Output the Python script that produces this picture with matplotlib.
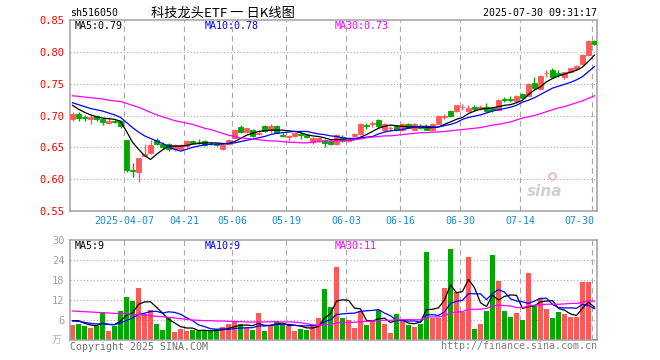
import numpy as np
import matplotlib
matplotlib.use("Agg")
import matplotlib.pyplot as plt

plt.rcParams['font.family'] = ['DejaVu Sans Mono', 'Noto Sans CJK SC']

dates = ["03-24", "03-25", "03-26", "03-27", "03-28", "03-31", "04-01", "04-02", "04-03", "04-07",
         "04-08", "04-09", "04-10", "04-11", "04-14", "04-15", "04-16", "04-17", "04-18", "04-21",
         "04-22", "04-23", "04-24", "04-25", "04-28", "04-29", "04-30", "05-06", "05-07", "05-08",
         "05-09", "05-12", "05-13", "05-14", "05-15", "05-16", "05-19", "05-20", "05-21", "05-22",
         "05-23", "05-26", "05-27", "05-28", "05-29", "05-30", "06-03", "06-04", "06-05", "06-06",
         "06-09", "06-10", "06-11", "06-12", "06-13", "06-16", "06-17", "06-18", "06-19", "06-20",
         "06-23", "06-24", "06-25", "06-26", "06-27", "06-30", "07-01", "07-02", "07-03", "07-04",
         "07-07", "07-08", "07-09", "07-10", "07-11", "07-14", "07-15", "07-16", "07-17", "07-18",
         "07-21", "07-22", "07-23", "07-24", "07-25", "07-28", "07-29", "07-30"]

open_ = [0.695, 0.703, 0.697, 0.695, 0.699, 0.694, 0.689, 0.692, 0.691, 0.661,
         0.615, 0.611, 0.637, 0.641, 0.661, 0.656, 0.656, 0.647, 0.648, 0.652,
         0.660, 0.659, 0.660, 0.656, 0.656, 0.648, 0.655, 0.665, 0.682, 0.674,
         0.677, 0.671, 0.684, 0.678, 0.684, 0.670, 0.667, 0.668, 0.671, 0.670,
         0.658, 0.660, 0.662, 0.660, 0.655, 0.667, 0.660, 0.668, 0.671, 0.685,
         0.687, 0.693, 0.677, 0.680, 0.683, 0.677, 0.686, 0.678, 0.684, 0.683,
         0.677, 0.687, 0.698, 0.707, 0.707, 0.713, 0.707, 0.714, 0.710, 0.714,
         0.712, 0.709, 0.726, 0.726, 0.722, 0.733, 0.731, 0.751, 0.741, 0.766,
         0.772, 0.767, 0.760, 0.768, 0.773, 0.781, 0.795, 0.817]
high = [0.705, 0.706, 0.701, 0.703, 0.701, 0.696, 0.697, 0.695, 0.693, 0.661,
        0.626, 0.634, 0.656, 0.662, 0.664, 0.658, 0.657, 0.656, 0.656, 0.662,
        0.662, 0.663, 0.661, 0.658, 0.657, 0.656, 0.663, 0.679, 0.685, 0.681,
        0.679, 0.678, 0.685, 0.686, 0.685, 0.672, 0.669, 0.673, 0.674, 0.671,
        0.666, 0.665, 0.663, 0.661, 0.671, 0.669, 0.665, 0.673, 0.688, 0.689,
        0.692, 0.695, 0.688, 0.684, 0.685, 0.688, 0.688, 0.688, 0.686, 0.686,
        0.688, 0.701, 0.703, 0.708, 0.717, 0.718, 0.716, 0.716, 0.716, 0.720,
        0.714, 0.726, 0.729, 0.730, 0.732, 0.736, 0.751, 0.760, 0.764, 0.772,
        0.775, 0.772, 0.769, 0.775, 0.780, 0.796, 0.818, 0.819]
low = [0.692, 0.692, 0.691, 0.687, 0.692, 0.685, 0.686, 0.688, 0.681, 0.612,
       0.603, 0.595, 0.636, 0.639, 0.654, 0.648, 0.645, 0.645, 0.646, 0.651,
       0.656, 0.656, 0.652, 0.653, 0.652, 0.646, 0.654, 0.664, 0.672, 0.672,
       0.666, 0.669, 0.674, 0.673, 0.672, 0.666, 0.660, 0.666, 0.663, 0.664,
       0.656, 0.658, 0.651, 0.654, 0.654, 0.659, 0.658, 0.666, 0.670, 0.679,
       0.682, 0.681, 0.676, 0.676, 0.675, 0.676, 0.680, 0.677, 0.679, 0.677,
       0.676, 0.686, 0.695, 0.697, 0.705, 0.708, 0.705, 0.707, 0.708, 0.705,
       0.706, 0.708, 0.721, 0.721, 0.721, 0.727, 0.730, 0.742, 0.740, 0.760,
       0.759, 0.760, 0.758, 0.767, 0.772, 0.780, 0.794, 0.811]
close = [0.703, 0.696, 0.696, 0.697, 0.694, 0.690, 0.692, 0.690, 0.683, 0.614,
         0.613, 0.633, 0.640, 0.654, 0.656, 0.650, 0.648, 0.654, 0.653, 0.660,
         0.657, 0.658, 0.653, 0.655, 0.654, 0.654, 0.662, 0.677, 0.674, 0.680,
         0.668, 0.673, 0.676, 0.683, 0.673, 0.668, 0.668, 0.672, 0.669, 0.667,
         0.664, 0.664, 0.657, 0.655, 0.670, 0.660, 0.664, 0.671, 0.687, 0.684,
         0.688, 0.684, 0.686, 0.681, 0.677, 0.686, 0.681, 0.686, 0.681, 0.678,
         0.686, 0.700, 0.700, 0.700, 0.716, 0.714, 0.712, 0.710, 0.714, 0.707,
         0.708, 0.724, 0.725, 0.725, 0.730, 0.728, 0.749, 0.743, 0.762, 0.767,
         0.761, 0.764, 0.768, 0.774, 0.778, 0.795, 0.817, 0.813]

ma5 = [0.716, 0.710, 0.705, 0.701, 0.698, 0.696, 0.695, 0.694, 0.691, 0.675,
       0.658, 0.647, 0.637, 0.631, 0.639, 0.646, 0.652, 0.652, 0.652, 0.653,
       0.655, 0.656, 0.657, 0.657, 0.657, 0.656, 0.656, 0.659, 0.664, 0.669,
       0.672, 0.675, 0.676, 0.677, 0.677, 0.677, 0.676, 0.675, 0.673, 0.670,
       0.668, 0.667, 0.665, 0.662, 0.662, 0.662, 0.661, 0.662, 0.666, 0.670,
       0.675, 0.680, 0.683, 0.685, 0.684, 0.683, 0.682, 0.682, 0.682, 0.681,
       0.681, 0.682, 0.686, 0.690, 0.694, 0.697, 0.703, 0.707, 0.710, 0.711,
       0.712, 0.714, 0.716, 0.717, 0.720, 0.724, 0.733, 0.740, 0.745, 0.753,
       0.758, 0.762, 0.765, 0.768, 0.771, 0.776, 0.785, 0.795]
ma10 = [0.720, 0.717, 0.714, 0.711, 0.709, 0.707, 0.704, 0.701, 0.697, 0.689,
        0.681, 0.674, 0.668, 0.664, 0.660, 0.656, 0.651, 0.647, 0.644, 0.647,
        0.650, 0.652, 0.654, 0.655, 0.655, 0.655, 0.656, 0.657, 0.659, 0.661,
        0.663, 0.665, 0.667, 0.670, 0.672, 0.673, 0.674, 0.675, 0.675, 0.675,
        0.673, 0.671, 0.670, 0.668, 0.667, 0.665, 0.664, 0.664, 0.665, 0.666,
        0.667, 0.671, 0.674, 0.676, 0.677, 0.678, 0.680, 0.682, 0.683, 0.683,
        0.682, 0.682, 0.684, 0.686, 0.689, 0.694, 0.697, 0.699, 0.701, 0.704,
        0.707, 0.709, 0.711, 0.713, 0.716, 0.721, 0.724, 0.728, 0.733, 0.738,
        0.743, 0.746, 0.749, 0.752, 0.756, 0.761, 0.769, 0.777]
ma30 = [0.731, 0.730, 0.729, 0.728, 0.727, 0.726, 0.724, 0.723, 0.722, 0.719,
        0.716, 0.713, 0.709, 0.705, 0.701, 0.698, 0.695, 0.692, 0.690, 0.688,
        0.686, 0.683, 0.680, 0.678, 0.675, 0.672, 0.669, 0.667, 0.665, 0.664,
        0.663, 0.662, 0.661, 0.660, 0.660, 0.659, 0.658, 0.658, 0.657, 0.657,
        0.658, 0.659, 0.659, 0.660, 0.660, 0.661, 0.661, 0.662, 0.663, 0.665,
        0.666, 0.667, 0.668, 0.668, 0.669, 0.670, 0.671, 0.672, 0.673, 0.673,
        0.674, 0.674, 0.675, 0.676, 0.677, 0.678, 0.679, 0.680, 0.681, 0.683,
        0.685, 0.686, 0.688, 0.690, 0.693, 0.696, 0.698, 0.700, 0.703, 0.706,
        0.709, 0.712, 0.714, 0.717, 0.720, 0.723, 0.727, 0.731]

# volume in 10k
volume = [4.5, 4.8, 4.3, 3.6, 4.3, 8.3, 2.7, 4.3, 8.7, 13.0,
          11.8, 15.7, 7.9, 8.9, 4.8, 3.0, 6.5, 2.5, 3.3, 2.7,
          2.9, 2.8, 2.8, 2.6, 3.2, 4.0, 4.8, 5.5, 4.7, 3.5,
          3.0, 8.1, 2.7, 4.5, 5.7, 4.7, 4.5, 2.7, 3.3, 3.0,
          4.5, 6.7, 15.3, 9.9, 21.9, 6.5, 6.0, 3.6, 8.7, 4.5,
          5.7, 9.1, 4.8, 2.1, 7.8, 6.1, 4.5, 3.9, 4.7, 26.3,
          6.7, 6.7, 15.7, 27.3, 14.5, 8.5, 24.9, 3.3, 4.7, 8.7,
          25.5, 17.8, 8.7, 6.9, 8.1, 6.0, 20.1, 10.3, 12.7, 9.3,
          6.7, 8.3, 7.8, 7.0, 7.0, 17.5, 17.5, 0.3]
vol_ma5 = [5.8, 5.8, 5.0, 4.5, 4.30, 5.06, 4.64, 4.64, 5.66, 7.40,
           8.10, 10.70, 11.42, 11.46, 9.82, 8.06, 6.22, 5.14, 4.02, 3.60,
           3.58, 2.84, 2.90, 2.76, 2.86, 3.08, 3.48, 4.02, 4.44, 4.50,
           4.30, 4.96, 4.40, 4.36, 4.80, 5.14, 4.42, 4.42, 4.18, 3.64,
           3.60, 4.04, 6.56, 7.88, 11.66, 12.06, 11.92, 9.58, 9.34, 5.86,
           5.70, 6.32, 6.56, 5.24, 5.90, 5.98, 5.06, 4.88, 5.40, 9.10,
           9.22, 9.66, 12.02, 16.54, 14.18, 14.54, 18.18, 15.70, 11.18, 10.02,
           13.42, 12.00, 13.08, 13.52, 13.40, 9.50, 9.96, 10.28, 11.44, 11.68,
           11.82, 9.46, 8.96, 7.82, 7.36, 9.52, 11.36, 9.86]
vol_ma10 = [5.7, 5.6, 5.3, 5.0, 4.8, 4.9, 4.7, 4.6, 5.1, 5.85,
            6.58, 7.67, 8.03, 8.56, 8.61, 8.08, 8.46, 8.28, 7.74, 6.71,
            5.82, 4.53, 4.02, 3.39, 3.23, 3.33, 3.16, 3.46, 3.60, 3.68,
            3.69, 4.22, 4.21, 4.40, 4.65, 4.72, 4.69, 4.41, 4.27, 4.22,
            4.37, 4.23, 5.49, 6.03, 7.65, 7.83, 7.98, 8.07, 8.61, 8.76,
            8.88, 9.12, 8.07, 7.29, 5.88, 5.84, 5.69, 5.72, 5.32, 7.50,
            7.60, 7.36, 8.45, 10.97, 11.64, 11.88, 13.92, 13.86, 13.86, 12.10,
            13.98, 15.09, 14.39, 12.35, 11.71, 11.46, 10.98, 11.68, 12.48, 12.54,
            10.66, 9.71, 9.62, 9.63, 9.52, 10.67, 10.41, 9.41]
vol_ma30 = [8.7, 8.6, 8.5, 8.4, 8.3, 8.2, 8.1, 8.0, 7.9, 7.8,
            7.7, 7.6, 7.5, 7.3, 7.1, 7.0, 6.8, 6.6, 6.4, 6.2,
            6.0, 5.9, 5.8, 5.8, 5.7, 5.7, 5.6, 5.5, 5.5, 5.41,
            5.36, 5.47, 5.42, 5.45, 5.50, 5.38, 5.44, 5.38, 5.20, 4.87,
            4.63, 4.33, 4.57, 4.61, 5.18, 5.29, 5.28, 5.31, 5.49, 5.55,
            5.65, 5.86, 5.92, 5.91, 6.06, 6.13, 6.12, 6.07, 6.07, 6.83,
            6.95, 6.90, 7.34, 8.10, 8.39, 8.52, 9.20, 9.22, 9.26, 9.45,
            10.15, 10.52, 10.30, 10.20, 9.74, 9.73, 10.20, 10.42, 10.55, 10.71,
            10.75, 10.72, 10.82, 10.98, 10.96, 11.34, 11.77, 11.65]

tick_dates = ["04-07", "04-21", "05-06", "05-19", "06-03", "06-16", "06-30", "07-14", "07-30"]
tick_labels = ["2025-04-07", "04-21", "05-06", "05-19", "06-03", "06-16", "06-30", "07-14", "07-30"]
price_ticks = [0.55, 0.60, 0.65, 0.70, 0.75, 0.80, 0.85]
vol_ticks = [6, 12, 18, 24, 30]

RED = '#ff5858'
GREEN = '#00a800'
GRID = '#a8a8a8'
FRAME = '#a0a0a0'

x = np.arange(len(dates))
o = np.array(open_)
c = np.array(close)
colors = [RED if cc >= oo else GREEN for oo, cc in zip(o, c)]

W, H = 660, 360
fig = plt.figure(figsize=(W / 100, H / 100), dpi=100)


def box(l, t, r, b):
    return [l / W, 1 - b / H, (r - l) / W, (b - t) / H]


ax = fig.add_axes(box(70, 20, 597, 211))
axv = fig.add_axes(box(70, 240, 597, 340))

tick_idx = [dates.index(d) for d in tick_dates]

for a in (ax, axv):
    a.set_xlim(-0.42, 87.42)
    for t in tick_idx:
        a.axvline(t - 0.38, color=GRID, lw=0.8, ls=(0, (5, 3.5)), zorder=1)
    for s in a.spines.values():
        s.set_color(FRAME)
        s.set_linewidth(1.1)
    a.set_xticks([])
    a.tick_params(axis='y', length=0)

# price panel
ax.set_ylim(0.55, 0.85)
for v in price_ticks[1:-1]:
    ax.axhline(v, color=GRID, lw=0.8, ls=(0, (1, 2)), zorder=1)
ax.set_yticks(price_ticks)
ax.set_yticklabels([f"{v:.2f}" for v in price_ticks], color='#ff0000', fontsize=7.5)
ax.tick_params(axis='y', pad=4)

ax.vlines(x, low, high, colors=colors, lw=1, zorder=2)
ax.bar(x, np.abs(c - o), bottom=np.minimum(o, c), width=0.68, color=colors,
       edgecolor=colors, lw=0.6, zorder=3)
ax.plot(x, ma5, color='black', lw=0.9, zorder=4)
ax.plot(x, ma10, color='#0000ff', lw=0.9, zorder=4)
ax.plot(x, ma30, color='#ff00ff', lw=0.9, zorder=4)

ax.text(5 / 527, 1 - 6 / 191, "MA5:0.79", transform=ax.transAxes, fontsize=7.2,
        color='black', va='center', ha='left')
ax.text(135 / 527, 1 - 6 / 191, "MA10:0.78", transform=ax.transAxes, fontsize=7.2,
        color='#0000ff', va='center', ha='left')
ax.text(265 / 527, 1 - 6 / 191, "MA30:0.73", transform=ax.transAxes, fontsize=7.2,
        color='#ff00ff', va='center', ha='left')

for t, lab in zip(tick_idx, tick_labels):
    ha = 'right' if t == len(dates) - 1 else 'center'
    xt = t + 0.05 if ha == 'right' else t - 0.38
    ax.text(xt, -9.5 / 191, lab, transform=ax.get_xaxis_transform(), fontsize=7.2,
            color='#1a8ad4', ha=ha, va='center')

ax.text(0.9, 0.1, "sina", transform=ax.transAxes, fontsize=11, color='#d0d0d0',
        style='italic', fontweight='bold', family='DejaVu Sans', ha='center', va='center')
ax.plot([0.915], [0.185], transform=ax.transAxes, marker='o', ms=5, mfc='none',
        mec='#f0b0b0', mew=1.2)

# volume panel
axv.set_ylim(0, 30)
for v in vol_ticks[:-1]:
    axv.axhline(v, color=GRID, lw=0.8, ls=(0, (1, 2)), zorder=1)
axv.set_yticks(vol_ticks)
axv.set_yticklabels([str(v) for v in vol_ticks], color='#a0a0a0', fontsize=7.5)
axv.tick_params(axis='y', pad=4)
axv.bar(x, volume, width=0.82, color=colors, zorder=2)
axv.plot(x, vol_ma5, color='black', lw=0.9, zorder=4)
axv.plot(x, vol_ma10, color='#0000ff', lw=0.9, zorder=4)
axv.plot(x, vol_ma30, color='#ff00ff', lw=0.9, zorder=4)

axv.text(5 / 527, 1 - 6 / 100, "MA5:9", transform=axv.transAxes, fontsize=7.2,
         color='black', va='center', ha='left')
axv.text(135 / 527, 1 - 6 / 100, "MA10:9", transform=axv.transAxes, fontsize=7.2,
         color='#0000ff', va='center', ha='left')
axv.text(265 / 527, 1 - 6 / 100, "MA30:11", transform=axv.transAxes, fontsize=7.2,
         color='#ff00ff', va='center', ha='left')

# header / footer
fig.text(70 / W, 1 - 13 / H, "sh516050", fontsize=7.2, color='black', va='center', ha='left')
fig.text(223 / W, 1 - 13 / H, "科技龙头ETF 一 日K线图", fontsize=9.5, color='black',
         va='center', ha='center', family=['Noto Sans CJK SC', 'DejaVu Sans'])
fig.text(597 / W, 1 - 13 / H, "2025-07-30 09:31:17", fontsize=7.2, color='black',
         va='center', ha='right')
fig.text(57 / W, 1 - 340 / H, "万", fontsize=7, color='#b0b0b0', va='center', ha='center',
         family=['Noto Sans CJK SC', 'DejaVu Sans'])
fig.text(70 / W, 1 - 347 / H, "Copyright 2025 SINA.COM", fontsize=7.2, color='#707070',
         va='center', ha='left')
fig.text(597 / W, 1 - 346 / H, "http://finance.sina.com.cn", fontsize=7.2, color='#808080',
         va='center', ha='right')

fig.savefig("out.png", dpi=100)
